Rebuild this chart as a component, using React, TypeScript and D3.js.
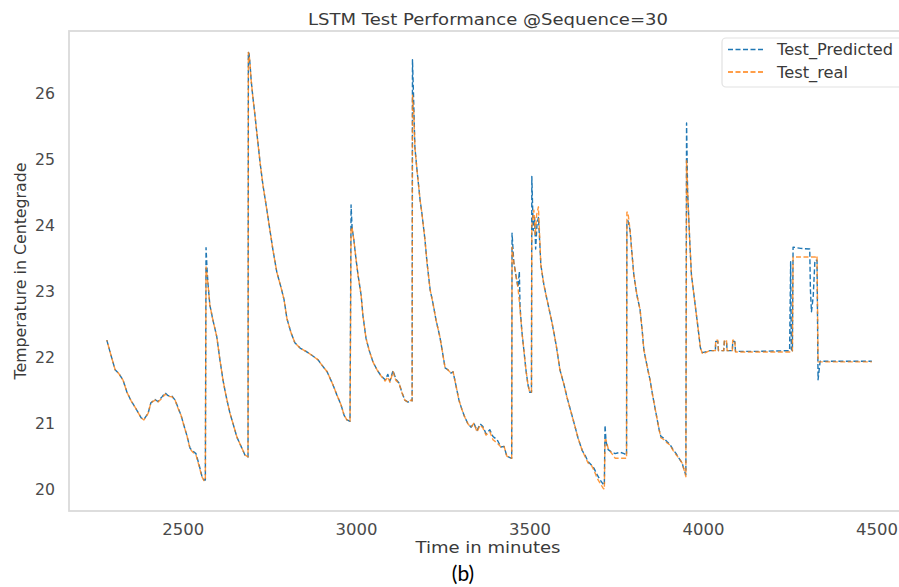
import React from "react";
import * as d3 from "d3";

// ---- data ----
const titleText = "LSTM Test Performance @Sequence=30";
const xLabel = "Time in minutes";
const yLabel = "Temperature in Centegrade";
const captionText = "(b)";
const xTicks = [2500, 3000, 3500, 4000, 4500];
const yTicks = [20, 21, 22, 23, 24, 25, 26];
const seriesNames = ["Test_Predicted", "Test_real"];

// [minute, temperature]
const realSeries: [number, number][] = [
  [2280, 22.24], [2292, 22.01], [2304, 21.79], [2315, 21.73], [2327, 21.63], [2338, 21.45],
  [2350, 21.32], [2364, 21.2], [2379, 21.06], [2387, 21.03], [2399, 21.13], [2407, 21.29],
  [2419, 21.33], [2427, 21.3], [2439, 21.36], [2448, 21.42], [2456, 21.39], [2468, 21.38],
  [2477, 21.33], [2485, 21.21], [2494, 21.1], [2502, 20.95], [2511, 20.79], [2520, 20.59],
  [2528, 20.54], [2537, 20.5], [2546, 20.33], [2554, 20.17], [2560, 20.11], [2564, 20.11],
  [2566, 23.35], [2572, 23.07], [2577, 22.77], [2586, 22.54], [2597, 22.29], [2606, 21.94],
  [2615, 21.63], [2623, 21.41], [2635, 21.13], [2644, 20.97], [2655, 20.77], [2667, 20.63],
  [2678, 20.5], [2687, 20.47], [2688, 26.6], [2690, 26.58], [2693, 26.41], [2696, 26.18],
  [2701, 25.92], [2707, 25.65], [2713, 25.35], [2722, 24.92], [2730, 24.59], [2739, 24.29],
  [2750, 23.91], [2759, 23.6], [2770, 23.27], [2782, 23.04], [2791, 22.85], [2799, 22.57],
  [2811, 22.35], [2822, 22.2], [2837, 22.12], [2854, 22.07], [2871, 22.01], [2889, 21.94],
  [2900, 21.86], [2915, 21.76], [2932, 21.56], [2943, 21.41], [2955, 21.26], [2964, 21.1],
  [2972, 21.03], [2981, 21.01], [2984, 23.95], [2987, 23.94], [2992, 23.76], [2998, 23.48],
  [3004, 23.23], [3013, 22.92], [3018, 22.62], [3027, 22.27], [3036, 22.09], [3047, 21.91],
  [3059, 21.79], [3070, 21.7], [3082, 21.62], [3090, 21.68], [3096, 21.6], [3105, 21.76],
  [3113, 21.63], [3122, 21.59], [3131, 21.44], [3139, 21.33], [3148, 21.3], [3157, 21.33],
  [3160, 21.32], [3161, 25.95], [3165, 25.65], [3168, 25.16], [3174, 24.82], [3183, 24.36],
  [3188, 24.17], [3197, 23.76], [3203, 23.41], [3212, 23.0], [3220, 22.8], [3229, 22.54],
  [3240, 22.29], [3249, 22.01], [3255, 21.82], [3263, 21.79], [3272, 21.74], [3278, 21.76],
  [3286, 21.56], [3295, 21.33], [3304, 21.18], [3312, 21.07], [3321, 20.97], [3330, 20.92],
  [3338, 20.98], [3347, 20.85], [3356, 20.95], [3364, 20.91], [3373, 20.8], [3384, 20.85],
  [3393, 20.73], [3405, 20.68], [3416, 20.62], [3425, 20.63], [3433, 20.48], [3445, 20.45],
  [3447, 20.45], [3448, 23.65], [3453, 23.42], [3459, 23.23], [3465, 23.04], [3470, 22.77],
  [3476, 22.39], [3482, 22.09], [3488, 21.79], [3494, 21.56], [3499, 21.45], [3504, 21.45],
  [3505, 23.98], [3511, 24.21], [3515, 23.83], [3519, 24.14], [3524, 24.26], [3528, 23.76],
  [3531, 23.38], [3540, 23.07], [3551, 22.8], [3563, 22.51], [3575, 22.17], [3586, 21.79],
  [3598, 21.56], [3606, 21.38], [3618, 21.15], [3630, 20.92], [3638, 20.76], [3650, 20.57],
  [3658, 20.48], [3667, 20.38], [3676, 20.35], [3684, 20.27], [3693, 20.15], [3702, 20.07],
  [3710, 20.0], [3714, 19.98], [3716, 20.73], [3719, 20.73], [3725, 20.6], [3733, 20.54],
  [3745, 20.45], [3759, 20.45], [3771, 20.45], [3778, 20.45], [3779, 24.18], [3782, 24.18],
  [3788, 23.91], [3794, 23.53], [3799, 23.23], [3808, 22.92], [3817, 22.7], [3823, 22.39],
  [3828, 22.09], [3837, 21.85], [3846, 21.63], [3854, 21.38], [3863, 21.13], [3872, 20.88],
  [3877, 20.76], [3886, 20.73], [3895, 20.68], [3903, 20.65], [3912, 20.57], [3921, 20.5],
  [3929, 20.45], [3938, 20.38], [3944, 20.27], [3949, 20.17], [3951, 24.97], [3955, 24.36],
  [3960, 23.76], [3965, 23.23], [3974, 22.85], [3983, 22.47], [3991, 22.12], [3997, 22.03],
  [4018, 22.08], [4034, 22.08], [4035, 22.24], [4041, 22.24], [4043, 22.08], [4058, 22.08],
  [4060, 22.24], [4066, 22.24], [4068, 22.08], [4083, 22.08], [4084, 22.24], [4090, 22.24],
  [4092, 22.06], [4163, 22.06], [4256, 22.06], [4258, 23.5], [4278, 23.5], [4323, 23.5],
  [4327, 23.52], [4330, 21.91], [4400, 21.91], [4485, 21.91],
];

const predictedSeries: [number, number][] = [
  [2280, 22.24], [2292, 22.01], [2304, 21.79], [2315, 21.73], [2327, 21.63], [2338, 21.45],
  [2350, 21.32], [2364, 21.2], [2379, 21.06], [2387, 21.04], [2399, 21.13], [2407, 21.29],
  [2419, 21.34], [2427, 21.31], [2439, 21.38], [2448, 21.44], [2456, 21.4], [2468, 21.39],
  [2477, 21.33], [2485, 21.22], [2494, 21.1], [2502, 20.95], [2511, 20.79], [2520, 20.6],
  [2528, 20.56], [2537, 20.52], [2546, 20.35], [2554, 20.18], [2560, 20.12], [2564, 20.12],
  [2566, 23.64], [2569, 23.3], [2572, 23.07], [2577, 22.77], [2586, 22.54], [2597, 22.29],
  [2606, 21.94], [2615, 21.63], [2623, 21.41], [2635, 21.13], [2644, 20.97], [2655, 20.77],
  [2667, 20.63], [2678, 20.5], [2687, 20.47], [2688, 26.6], [2690, 26.58], [2693, 26.41],
  [2696, 26.18], [2701, 25.92], [2707, 25.65], [2713, 25.35], [2722, 24.92], [2730, 24.59],
  [2739, 24.29], [2750, 23.91], [2759, 23.6], [2770, 23.27], [2782, 23.04], [2791, 22.85],
  [2799, 22.57], [2811, 22.35], [2822, 22.2], [2837, 22.12], [2854, 22.07], [2871, 22.01],
  [2889, 21.94], [2900, 21.86], [2915, 21.76], [2932, 21.56], [2943, 21.41], [2955, 21.26],
  [2964, 21.1], [2972, 21.03], [2981, 21.01], [2984, 24.29], [2987, 23.94], [2992, 23.76],
  [2998, 23.48], [3004, 23.23], [3013, 22.92], [3018, 22.62], [3027, 22.27], [3036, 22.09],
  [3047, 21.91], [3059, 21.79], [3070, 21.7], [3082, 21.64], [3090, 21.72], [3096, 21.62],
  [3105, 21.78], [3113, 21.65], [3122, 21.59], [3131, 21.44], [3139, 21.33], [3148, 21.3],
  [3157, 21.33], [3160, 21.32], [3161, 26.49], [3164, 25.95], [3168, 25.16], [3174, 24.82],
  [3183, 24.36], [3188, 24.17], [3197, 23.76], [3203, 23.41], [3212, 23.0], [3220, 22.8],
  [3229, 22.54], [3240, 22.29], [3249, 22.01], [3255, 21.82], [3263, 21.79], [3272, 21.74],
  [3278, 21.76], [3286, 21.56], [3295, 21.33], [3304, 21.18], [3312, 21.07], [3321, 20.97],
  [3330, 20.92], [3338, 20.98], [3347, 20.87], [3356, 20.97], [3364, 20.93], [3373, 20.82],
  [3384, 20.88], [3393, 20.78], [3405, 20.73], [3416, 20.62], [3425, 20.63], [3433, 20.48],
  [3445, 20.45], [3447, 20.45], [3448, 23.86], [3453, 23.42], [3459, 23.23], [3465, 23.04],
  [3469, 23.28], [3471, 22.75], [3476, 22.39], [3482, 22.09], [3488, 21.79], [3494, 21.56],
  [3499, 21.45], [3504, 21.45], [3505, 24.72], [3509, 23.9], [3513, 24.1], [3516, 23.62],
  [3520, 24.0], [3524, 24.1], [3528, 23.7], [3531, 23.38], [3540, 23.07], [3551, 22.8],
  [3563, 22.51], [3575, 22.17], [3586, 21.79], [3598, 21.56], [3606, 21.38], [3618, 21.15],
  [3630, 20.92], [3638, 20.76], [3650, 20.57], [3658, 20.5], [3667, 20.4], [3676, 20.35],
  [3684, 20.3], [3693, 20.2], [3702, 20.12], [3710, 20.06], [3714, 20.04], [3716, 20.95],
  [3719, 20.7], [3725, 20.58], [3733, 20.55], [3745, 20.52], [3759, 20.54], [3771, 20.52],
  [3778, 20.5], [3779, 24.0], [3782, 24.05], [3788, 23.91], [3794, 23.53], [3799, 23.23],
  [3808, 22.92], [3817, 22.7], [3823, 22.39], [3828, 22.09], [3837, 21.85], [3846, 21.63],
  [3854, 21.38], [3863, 21.13], [3872, 20.88], [3877, 20.78], [3886, 20.75], [3895, 20.7],
  [3903, 20.66], [3912, 20.58], [3921, 20.52], [3929, 20.45], [3938, 20.38], [3944, 20.27],
  [3949, 20.2], [3951, 25.53], [3954, 24.5], [3960, 23.76], [3965, 23.23], [3974, 22.85],
  [3983, 22.47], [3991, 22.12], [3997, 22.05], [4018, 22.08], [4034, 22.08], [4035, 22.22],
  [4041, 22.22], [4043, 22.08], [4058, 22.08], [4060, 22.22], [4066, 22.22], [4068, 22.08],
  [4083, 22.08], [4084, 22.22], [4090, 22.22], [4092, 22.07], [4163, 22.07], [4248, 22.08],
  [4251, 23.43], [4253, 22.1], [4256, 22.08], [4258, 23.65], [4280, 23.63], [4306, 23.62],
  [4308, 23.0], [4311, 22.67], [4316, 22.9], [4321, 23.45], [4327, 23.45], [4330, 21.64],
  [4336, 21.92], [4400, 21.92], [4485, 21.92],
];

// ---- layout ----
const W = 899;
const H = 587;
const plot = { left: 69, right: 910, top: 31, bottom: 511 };
const xDomain = [2171, 4595];
const yDomain = [19.65, 26.94];
const colors = ["#1f77b4", "#ff7f0e"];
const FONT = "'DejaVu Sans', sans-serif";

export default function App() {
  const x = d3.scaleLinear().domain(xDomain).range([plot.left, plot.right]);
  const y = d3.scaleLinear().domain(yDomain).range([plot.bottom, plot.top - 1]);
  const line = d3
    .line<[number, number]>()
    .x((d) => x(d[0]))
    .y((d) => y(d[1]));

  return (
    <svg
      width={W}
      height={H}
      viewBox={`0 0 ${W} ${H}`}
      style={{ position: "absolute", left: 0, top: 0, background: "#fff" }}
    >
      <defs>
        <clipPath id="plotClip">
          <rect x={plot.left} y={plot.top} width={plot.right - plot.left} height={plot.bottom - plot.top} />
        </clipPath>
      </defs>
      <rect x={0} y={0} width={W} height={H} fill="#fff" />

      {/* frame */}
      <rect
        x={plot.left}
        y={plot.top}
        width={plot.right - plot.left}
        height={plot.bottom - plot.top}
        fill="none"
        stroke="#dadada"
        strokeWidth={1.8}
      />

      {/* lines */}
      <g clipPath="url(#plotClip)" fill="none" strokeLinejoin="round">
        <path d={line(predictedSeries) || ""} stroke={colors[0]} strokeWidth={1.4} strokeDasharray="5,2.5" />
        <path
          d={line(realSeries) || ""}
          stroke={colors[1]}
          strokeWidth={1.4}
          strokeDasharray="5,2.5"
          strokeDashoffset={3.5}
          opacity={0.8}
        />
      </g>

      {/* x ticks */}
      {xTicks.map((t) => (
        <text
          key={"x" + t}
          x={x(t)}
          y={535}
          textAnchor="middle"
          fontFamily={FONT}
          fontSize={15}
          fill="#4a4a4a"
          textLength={42}
          lengthAdjust="spacingAndGlyphs"
        >
          {t}
        </text>
      ))}
      {/* y ticks */}
      {yTicks.map((t) => (
        <text
          key={"y" + t}
          x={55}
          y={y(t) + 7}
          textAnchor="end"
          fontFamily={FONT}
          fontSize={15}
          fill="#4a4a4a"
          textLength={20}
          lengthAdjust="spacingAndGlyphs"
        >
          {t}
        </text>
      ))}

      {/* title */}
      <text
        x={488}
        y={25}
        textAnchor="middle"
        fontFamily={FONT}
        fontSize={16.5}
        fill="#3a3a3a"
        textLength={360}
        lengthAdjust="spacingAndGlyphs"
      >
        {titleText}
      </text>

      {/* axis labels */}
      <text
        x={488}
        y={553}
        textAnchor="middle"
        fontFamily={FONT}
        fontSize={16}
        fill="#3a3a3a"
        textLength={145}
        lengthAdjust="spacingAndGlyphs"
      >
        {xLabel}
      </text>
      <text
        transform="translate(26,271) rotate(-90)"
        textAnchor="middle"
        fontFamily={FONT}
        fontSize={15.5}
        fill="#3a3a3a"
        textLength={217}
        lengthAdjust="spacingAndGlyphs"
      >
        {yLabel}
      </text>

      {/* legend */}
      <rect x={722} y={38} width={200} height={49} rx={4} fill="#fff" fillOpacity={0.85} stroke="#e2e2e2" strokeWidth={1.2} />
      {seriesNames.map((name, i) => (
        <g key={name}>
          <line
            x1={728}
            x2={763}
            y1={49.5 + i * 22.5}
            y2={49.5 + i * 22.5}
            stroke={colors[i]}
            strokeWidth={1.4}
            strokeDasharray="5,2.5"
          />
          <text
            x={777}
            y={55 + i * 23}
            fontFamily={FONT}
            fontSize={15.5}
            fill="#3a3a3a"
            textLength={i === 0 ? 116 : 71}
            lengthAdjust="spacingAndGlyphs"
          >
            {name}
          </text>
        </g>
      ))}

      {/* caption */}
      <text x={463} y={581} textAnchor="middle" fontFamily="Lato, 'Open Sans', sans-serif" fontSize={21} fill="#000">
        {captionText}
      </text>
    </svg>
  );
}
